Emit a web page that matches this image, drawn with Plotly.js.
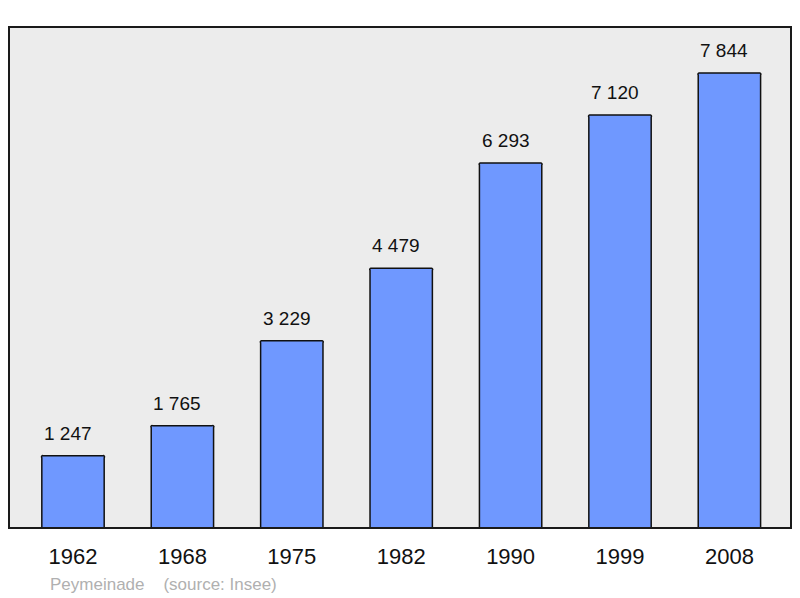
<!DOCTYPE html>
<html>
<head>
<meta charset="utf-8">
<script src="https://cdn.plot.ly/plotly-3.0.1.min.js"></script>
<style>html,body{margin:0;padding:0;background:#fff;}#chart{width:800px;height:598px;}</style>
</head>
<body>
<div id="chart"></div>
<script>
const years = ["1962", "1968", "1975", "1982", "1990", "1999", "2008"];
const population = [1247, 1765, 3229, 4479, 6293, 7120, 7844];
const footerText = "Peymeinade&nbsp;&nbsp;&nbsp;&nbsp;(source: Insee)";

function fmt(v) {
  return String(v).replace(/\B(?=(\d{3})+(?!\d))/g, " ");
}

const trace = {
  type: "bar",
  x: years,
  y: population,
  width: 0.57,
  marker: {
    color: "#6f98ff",
    line: { color: "#111", width: 1.5 },
    cornerradius: 2
  },
  hoverinfo: "x+y"
};

const annotations = years.map((yr, i) => ({
  x: i, y: population[i], xref: "x", yref: "y",
  text: fmt(population[i]),
  showarrow: false, yanchor: "bottom", yshift: 10, xshift: -5,
  font: { family: "Liberation Sans, Arial, sans-serif", size: 19, color: "#111" }
}));
annotations.push({
  xref: "paper", yref: "paper", x: 0.05, y: -0.112,
  xanchor: "left", yanchor: "middle",
  text: footerText, showarrow: false,
  font: { family: "Liberation Sans, Arial, sans-serif", size: 17, color: "#b0b0b0" }
});

const layout = {
  width: 800, height: 598,
  margin: { l: 9, r: 9, t: 27, b: 70 },
  paper_bgcolor: "#ffffff",
  plot_bgcolor: "#ececec",
  showlegend: false,
  bargap: 0,
  xaxis: {
    type: "category",
    range: [-0.585, 6.563],
    showgrid: false, zeroline: false, showline: false,
    ticks: "outside", ticklen: 9, tickcolor: "rgba(0,0,0,0)",
    tickfont: { family: "Liberation Sans, Arial, sans-serif", size: 22, color: "#111" },
    fixedrange: true
  },
  yaxis: {
    range: [0, 8638],
    showgrid: false, zeroline: false, showline: false,
    showticklabels: false, ticks: "",
    fixedrange: true
  },
  annotations: annotations,
  shapes: [{
    type: "rect", xref: "paper", yref: "paper",
    x0: 0, x1: 1, y0: 0, y1: 1,
    line: { color: "#1a1a1a", width: 2 },
    fillcolor: "rgba(0,0,0,0)",
    layer: "above"
  }]
};

Plotly.newPlot("chart", [trace], layout, { displayModeBar: false, staticPlot: true });
</script>
</body>
</html>
